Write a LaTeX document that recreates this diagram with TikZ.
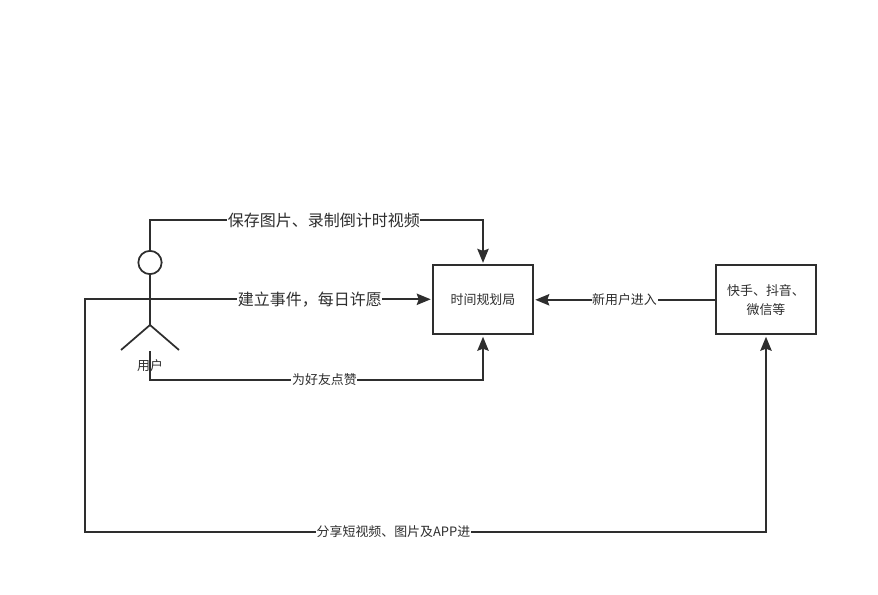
\documentclass[tikz,border=0pt]{standalone}
\usepackage{fontspec}
\usepackage{tikz}
\newfontfamily\cjk{Noto Sans CJK SC}
\usetikzlibrary{arrows.meta,calc}
\definecolor{ink}{HTML}{2E2E2E}
\tikzset{
  flow/.style={draw=ink,line width=1.4pt,shorten >=1.2pt},
  box/.style={draw=ink,line width=1.5pt,minimum width=74.5pt,minimum height=51.5pt,inner sep=0pt,align=center,font=\cjk\fontsize{9.7}{14}\selectfont,text=ink},
  biglabel/.style={fill=white,inner sep=0.5pt,font=\cjk\fontsize{12}{14}\selectfont,text=ink},
  smalllabel/.style={fill=white,inner sep=0.5pt,font=\cjk\fontsize{9.7}{12}\selectfont,text=ink},
}
\begin{document}
\begin{tikzpicture}[x=0.75pt,y=-0.75pt,>={Stealth[length=10.5pt,width=8.5pt,inset=1.5pt]}]
  \useasboundingbox (0,0) rectangle (878,595);
  \fill[white] (0,0) rectangle (878,595);
  \node[box] (bureau) at (483,299.8) {时间规划局};
  \node[box] (kuaishou) at (766,299.8) {快手、抖音、\\微信等};
  \node[draw=ink,line width=1.3pt,circle,minimum size=17.5pt,inner sep=0pt] (head) at (150,262.5) {};
  \coordinate (hip) at (150,325);
  \coordinate (armL) at (115,299.3);
  \coordinate (armR) at (186,299.3);
  \coordinate (footL) at (121,350);
  \coordinate (footR) at (179,350);
  \coordinate (chest) at (150,299.3);
  \coordinate (shin) at (150,351);
  \coordinate (topL) at (150,220);
  \coordinate (topR) at (483,220);
  \coordinate (likeL) at (150,380);
  \coordinate (likeR) at (483,380);
  \coordinate (outL) at (85,299.3);
  \coordinate (shareL) at (85,532);
  \coordinate (shareR) at (766,532);
  % stick figure
  \draw[ink,line width=1.3pt] (head) -- (hip);
  \draw[ink,line width=1.3pt] (footL) -- (hip) -- (footR);
  \draw[flow,shorten >=0pt] (armL) -- (armR);
  % connectors
  \draw[flow,->] (head) -- (topL) -- node[pos=0.522,biglabel] (savelabel) {保存图片、录制倒计时视频} (topR) -- (bureau);
  \draw[flow,->] (chest) -- node[pos=0.566,biglabel] (eventlabel) {建立事件，每日许愿} (chest -| bureau.west);
  \draw[flow,->] (shin) -- (likeL) -- node[pos=0.524,smalllabel] (likelabel) {为好友点赞} (likeR) -- (bureau);
  \draw[flow,->] (kuaishou) -- node[pos=0.5,smalllabel] (newlabel) {新用户进入} (bureau);
  \draw[flow,->] (armL) -- (outL) -- (shareL) -- node[pos=0.453,smalllabel] (sharelabel) {分享短视频、图片及APP进} (shareR) -- (kuaishou);
  \node[font=\cjk\fontsize{9.7}{12}\selectfont,text=ink] (userlabel) at (150,366) {用户};
\end{tikzpicture}
\end{document}
